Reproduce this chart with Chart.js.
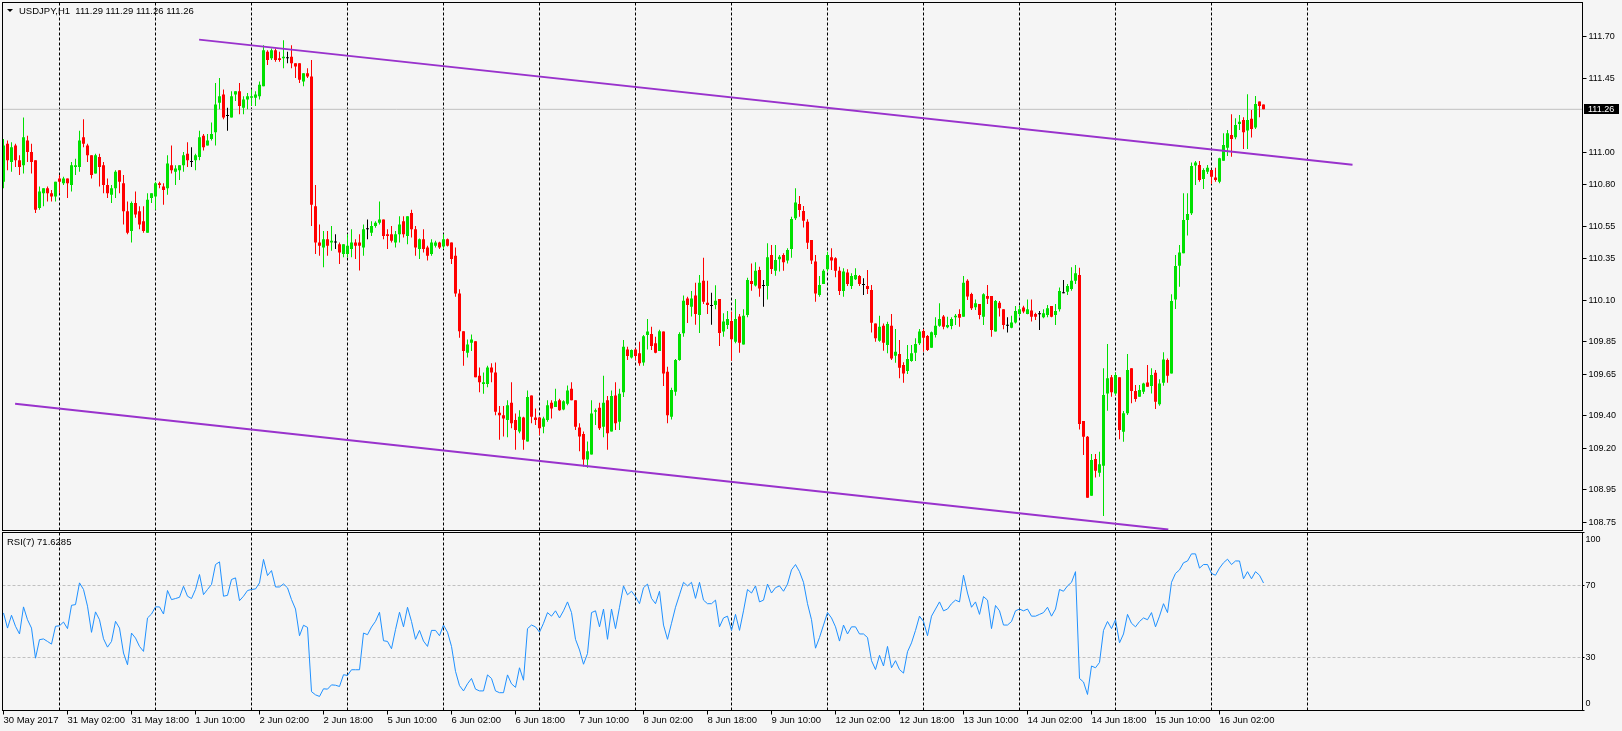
<!DOCTYPE html>
<html>
<head>
<meta charset="utf-8">
<title>USDJPY,H1</title>
<script src="https://cdn.jsdelivr.net/npm/chart.js@4/dist/chart.umd.min.js"></script>
<style>
  html, body { margin:0; padding:0; width:1622px; height:731px; overflow:hidden; background:#f5f5f5; }
  canvas { position:absolute; left:0; display:block; }
  #mainCanvas { top:0; }
  #rsiCanvas { top:531px; }
  .txt { position:absolute; font-family:'Liberation Sans', Arial, sans-serif; font-size:9.5px; line-height:11px; color:#000; white-space:pre; }
  #tri { position:absolute; left:7px; top:9px; width:0; height:0; border-left:3px solid transparent; border-right:3px solid transparent; border-top:3px solid #000; }
</style>
</head>
<body>
<canvas id="mainCanvas" width="1622" height="531"></canvas>
<canvas id="rsiCanvas" width="1622" height="200"></canvas>
<div id="tri"></div>
<div class="txt" id="title" style="left:19px;top:5px;"></div>
<div class="txt" id="rsiTitle" style="left:7px;top:536px;"></div>
<script>
// ---------------- data ----------------
const symbolName = 'USDJPY,H1';
const lastOHLC = [111.29, 111.29, 111.26, 111.26];
const bidPrice = 111.26;
const rsiPeriod = 7;
const rsiLast = 71.6285;

const timeLabels = ['30 May 2017','31 May 02:00','31 May 18:00','1 Jun 10:00','2 Jun 02:00','2 Jun 18:00',
  '5 Jun 10:00','6 Jun 02:00','6 Jun 18:00','7 Jun 10:00','8 Jun 02:00','8 Jun 18:00','9 Jun 10:00',
  '12 Jun 02:00','12 Jun 18:00','13 Jun 10:00','14 Jun 02:00','14 Jun 18:00','15 Jun 10:00','16 Jun 02:00'];
const barsPerLabel = 16;
const dayStartBars = [14,38,62,86,110,134,158,182,206,230,254,278,302,326];
const priceTicks = [111.70,111.45,111.00,110.80,110.55,110.35,110.10,109.85,109.65,109.40,109.20,108.95,108.75];
const rsiTicks = [100,70,30,0];
const rsiLevels = [70,30];

const opens = [110.82,111.05,110.94,111.04,110.95,110.92,111.07,111.00,110.95,110.66,
110.75,110.78,110.75,110.73,110.84,110.81,110.84,110.80,110.91,110.91,
111.09,111.04,110.98,110.87,110.97,110.92,110.80,110.74,110.78,110.89,
110.81,110.64,110.52,110.69,110.64,110.58,110.51,110.72,110.73,110.81,
110.79,110.78,110.92,110.88,110.89,110.92,110.99,110.94,110.95,110.97,
111.10,111.04,111.08,111.12,111.30,111.35,111.22,111.21,111.35,111.37,
111.27,111.32,111.33,111.33,111.34,111.40,111.61,111.57,111.62,111.57,
111.57,111.57,111.58,111.54,111.54,111.43,111.48,111.46,110.67,110.45,
110.42,110.47,110.45,110.45,110.44,110.38,110.38,110.41,110.45,110.45,
110.42,110.53,110.51,110.55,110.57,110.59,110.50,110.50,110.45,110.50,
110.58,110.49,110.63,110.53,110.41,110.47,110.42,110.38,110.43,110.45,
110.425,110.47,110.45,110.37,110.14,109.91,109.78,109.84,109.85,109.64,
109.59,109.59,109.69,109.66,109.415,109.40,109.37,109.475,109.37,109.30,
109.385,109.24,109.52,109.385,109.385,109.33,109.37,109.475,109.45,109.49,
109.435,109.47,109.56,109.49,109.325,109.285,109.13,109.16,109.42,109.445,
109.33,109.49,109.30,109.52,109.36,109.54,109.80,109.75,109.80,109.776,
109.72,109.887,109.893,109.837,109.79,109.908,109.664,109.39,109.543,109.735,
109.898,110.11,110.06,110.127,110.009,110.218,110.084,110.064,110.07,110.106,
109.908,109.948,109.973,109.847,110.00,109.83,110.009,110.216,110.188,110.283,
110.186,110.186,110.374,110.279,110.348,110.374,110.34,110.41,110.597,110.684,
110.642,110.577,110.465,110.334,110.131,110.198,110.287,110.36,110.354,110.279,
110.155,110.267,110.186,110.226,110.246,110.192,110.186,110.161,109.958,109.853,
109.944,109.826,109.944,109.762,109.772,109.705,109.668,109.729,109.78,109.837,
109.912,109.881,109.81,109.887,109.944,110.00,109.934,109.942,109.995,110.015,
109.999,110.218,110.137,110.056,110.076,109.999,110.125,110.125,109.908,110.084,
110.044,109.944,109.932,109.964,110.015,110.054,110.015,110.036,110.015,110.013,
109.995,110.009,110.064,110.009,110.044,110.141,110.151,110.167,110.218,110.252,
109.364,109.269,108.91,109.133,109.05,109.092,109.532,109.63,109.532,109.63,
109.299,109.411,109.685,109.547,109.512,109.543,109.599,109.577,109.658,109.467,
109.597,109.735,109.654,110.104,110.309,110.384,110.587,110.628,110.918,110.922,
110.836,110.881,110.891,110.845,110.82,110.948,111.027,111.104,111.09,111.171,
111.195,111.131,111.202,111.149,111.307,111.29];

const highs = [111.08,111.07,111.06,111.05,110.98,111.21,111.10,111.05,110.95,110.79,
110.78,110.79,110.77,110.82,110.86,110.85,110.84,110.94,110.96,111.13,
111.20,111.05,110.98,110.99,110.99,110.94,110.84,110.80,110.89,110.89,
110.86,110.70,110.70,110.76,110.67,110.67,110.75,110.75,110.82,110.82,
110.81,110.98,111.04,110.92,110.92,111.00,111.06,111.03,110.99,111.13,
111.11,111.11,111.18,111.42,111.45,111.38,111.27,111.37,111.37,111.42,
111.34,111.36,111.38,111.37,111.43,111.65,111.62,111.63,111.63,111.61,
111.68,111.61,111.65,111.54,111.54,111.48,111.51,111.56,110.80,110.56,
110.52,110.52,110.55,110.50,110.45,110.44,110.50,110.53,110.47,110.50,
110.56,110.59,110.58,110.58,110.70,110.59,110.53,110.55,110.52,110.61,
110.61,110.61,110.65,110.55,110.475,110.53,110.43,110.47,110.46,110.455,
110.50,110.475,110.45,110.42,110.165,109.91,109.86,109.89,109.85,109.69,
109.66,109.70,109.715,109.72,109.455,109.455,109.49,109.60,109.41,109.43,
109.39,109.55,109.52,109.44,109.39,109.39,109.49,109.49,109.56,109.50,
109.49,109.58,109.60,109.49,109.35,109.30,109.24,109.49,109.44,109.475,
109.64,109.516,109.55,109.60,109.56,109.857,109.816,109.80,109.806,109.847,
109.887,109.985,109.938,109.877,109.92,109.908,109.695,109.567,109.741,109.904,
110.127,110.12,110.155,110.206,110.252,110.358,110.218,110.145,110.19,110.106,
110.02,110.033,110.03,110.106,110.015,110.044,110.236,110.323,110.33,110.303,
110.222,110.445,110.435,110.435,110.374,110.384,110.415,110.607,110.78,110.733,
110.672,110.591,110.465,110.374,110.246,110.287,110.394,110.415,110.36,110.303,
110.293,110.287,110.263,110.293,110.252,110.232,110.283,110.192,109.958,110.005,
109.958,109.968,110.015,109.924,109.857,109.721,109.826,109.826,109.867,109.924,
109.924,109.887,109.908,109.995,110.08,110.009,109.999,109.995,110.015,110.044,
110.246,110.226,110.145,110.104,110.076,110.141,110.192,110.125,110.10,110.094,
110.044,109.995,110.005,110.064,110.066,110.066,110.104,110.104,110.023,110.033,
110.044,110.07,110.064,110.076,110.177,110.222,110.198,110.299,110.313,110.297,
109.364,109.273,109.164,109.164,109.178,109.685,109.833,109.644,109.66,109.63,
109.425,109.772,109.685,109.583,109.583,109.597,109.705,109.685,109.674,109.618,
109.782,109.745,110.135,110.374,110.435,110.749,110.749,110.936,110.946,110.946,
110.901,110.922,110.891,110.905,110.966,111.114,111.135,111.23,111.206,111.226,
111.212,111.352,111.256,111.341,111.307,111.29];

const lows = [110.78,110.89,110.88,110.91,110.86,110.87,110.94,110.87,110.63,110.65,
110.67,110.70,110.70,110.70,110.75,110.80,110.72,110.76,110.86,110.88,
111.03,110.94,110.84,110.87,110.79,110.75,110.72,110.69,110.72,110.75,
110.56,110.50,110.45,110.60,110.53,110.51,110.51,110.69,110.65,110.78,
110.68,110.74,110.87,110.80,110.83,110.88,110.91,110.91,110.89,110.95,
111.01,111.04,111.07,111.04,111.26,111.20,111.13,111.21,111.31,111.23,
111.23,111.26,111.28,111.28,111.32,111.40,111.53,111.56,111.55,111.55,
111.51,111.54,111.51,111.45,111.42,111.40,111.45,110.55,110.38,110.37,
110.30,110.37,110.40,110.41,110.32,110.36,110.36,110.36,110.35,110.28,
110.37,110.47,110.49,110.54,110.56,110.47,110.41,110.45,110.42,110.45,
110.48,110.44,110.48,110.37,110.35,110.39,110.34,110.37,110.42,110.41,
110.41,110.425,110.32,110.12,109.87,109.70,109.75,109.79,109.63,109.54,
109.53,109.57,109.60,109.40,109.25,109.27,109.265,109.32,109.19,109.29,
109.19,109.24,109.35,109.34,109.28,109.29,109.36,109.38,109.45,109.427,
109.43,109.46,109.49,109.31,109.18,109.087,109.08,109.16,109.34,109.31,
109.265,109.19,109.30,109.31,109.31,109.51,109.735,109.745,109.735,109.70,
109.70,109.80,109.796,109.776,109.79,109.577,109.35,109.374,109.518,109.731,
109.877,109.96,110.00,109.95,109.90,110.076,110.015,109.95,110.044,109.82,
109.877,109.924,109.731,109.837,109.78,109.83,109.995,110.157,110.182,110.12,
110.06,110.104,110.258,110.248,110.273,110.279,110.323,110.358,110.587,110.607,
110.542,110.41,110.32,110.09,110.12,110.198,110.273,110.283,110.238,110.131,
110.12,110.186,110.167,110.222,110.186,110.131,110.137,109.902,109.847,109.847,
109.792,109.776,109.735,109.719,109.624,109.597,109.65,109.725,109.729,109.826,
109.786,109.79,109.81,109.873,109.938,109.922,109.928,109.922,109.948,109.938,
109.999,110.10,110.04,110.04,109.983,109.948,110.076,109.877,109.908,110.00,
109.922,109.902,109.928,109.958,110.00,110.02,110.013,109.969,109.979,109.918,
109.989,109.995,109.995,109.948,110.03,110.141,110.131,110.157,110.198,109.313,
109.157,108.898,108.91,109.02,109.026,108.786,109.427,109.512,109.522,109.253,
109.238,109.401,109.472,109.482,109.512,109.528,109.573,109.532,109.437,109.457,
109.579,109.597,109.654,110.046,110.181,110.384,110.492,110.618,110.80,110.82,
110.776,110.867,110.806,110.82,110.81,110.948,110.976,110.972,111.078,111.135,
111.019,111.019,111.088,111.141,111.212,111.26];

const closes = [111.04,110.95,111.03,110.95,110.91,111.09,111.00,110.94,110.65,110.76,
110.78,110.75,110.73,110.82,110.82,110.84,110.81,110.92,110.92,111.07,
111.05,110.98,110.86,110.98,110.91,110.80,110.75,110.78,110.88,110.82,
110.64,110.51,110.69,110.62,110.56,110.52,110.71,110.75,110.81,110.80,
110.77,110.93,110.89,110.90,110.92,110.98,110.95,110.94,110.98,111.09,
111.03,111.07,111.11,111.29,111.34,111.21,111.22,111.34,111.37,111.28,
111.32,111.34,111.34,111.35,111.41,111.62,111.56,111.62,111.56,111.56,
111.58,111.57,111.54,111.52,111.44,111.48,111.46,110.68,110.45,110.43,
110.47,110.43,110.46,110.45,110.39,110.44,110.43,110.45,110.43,110.43,
110.53,110.53,110.55,110.57,110.59,110.49,110.49,110.46,110.50,110.56,
110.50,110.61,110.53,110.42,110.47,110.41,110.37,110.45,110.45,110.42,
110.47,110.43,110.35,110.14,109.91,109.79,109.83,109.86,109.63,109.60,
109.60,109.69,109.66,109.42,109.40,109.38,109.46,109.35,109.31,109.39,
109.25,109.51,109.39,109.37,109.32,109.38,109.46,109.44,109.485,109.43,
109.485,109.55,109.49,109.33,109.27,109.13,109.18,109.41,109.43,109.32,
109.475,109.29,109.516,109.35,109.53,109.816,109.76,109.796,109.76,109.715,
109.88,109.908,109.82,109.78,109.91,109.654,109.40,109.553,109.735,109.893,
110.096,110.07,110.11,110.015,110.206,110.09,110.07,110.064,110.096,109.90,
109.97,109.985,109.861,109.985,109.84,110.005,110.222,110.198,110.279,110.171,
110.186,110.36,110.289,110.344,110.364,110.33,110.405,110.593,110.694,110.648,
110.583,110.449,110.34,110.14,110.192,110.279,110.374,110.34,110.279,110.155,
110.273,110.198,110.246,110.252,110.198,110.192,110.167,109.962,109.867,109.938,
109.841,109.954,109.745,109.786,109.689,109.654,109.741,109.776,109.833,109.908,
109.871,109.796,109.904,109.944,109.985,109.938,109.948,109.985,110.005,109.993,
110.206,110.121,110.05,110.08,110.009,110.135,110.108,109.918,110.094,110.05,
109.948,109.944,109.964,110.033,110.044,110.03,110.044,109.999,109.999,110.013,
110.019,110.05,109.999,110.033,110.155,110.141,110.186,110.218,110.263,109.346,
109.269,108.898,109.127,109.062,109.102,109.522,109.624,109.539,109.644,109.309,
109.411,109.674,109.547,109.498,109.553,109.593,109.573,109.644,109.482,109.593,
109.739,109.64,110.094,110.307,110.39,110.587,110.624,110.916,110.936,110.83,
110.891,110.905,110.85,110.83,110.962,111.043,111.114,111.08,111.165,111.185,
111.12,111.195,111.141,111.293,111.28,111.26];

// RSI(7), one value per bar, read from the indicator window
const rsiValues = [54.8,46.3,53.5,47.3,43.0,58.2,51.0,46.3,29.4,39.8,
40.2,38.8,37.3,47.3,47.6,49.7,46.0,59.1,59.5,71.7,
68.0,58.6,43.9,55.4,51.0,40.3,35.6,38.8,50.1,46.3,
32.3,25.7,43.5,40.7,36.0,33.2,52.0,54.2,58.2,58.2,
54.2,67.4,62.3,62.9,63.6,69.8,64.2,62.9,68.0,76.4,
65.1,68.0,70.8,82.0,83.5,64.2,64.7,73.6,74.5,61.7,
64.2,67.4,68.0,68.3,71.7,84.9,75.8,78.6,69.4,69.4,
71.1,68.9,62.3,57.0,42.0,47.9,46.7,10.6,8.8,7.9,
12.2,12.0,14.4,14.2,13.5,20.1,19.7,22.9,22.9,22.9,
43.5,42.6,46.9,50.1,55.2,39.2,38.8,34.7,45.4,55.2,
47,58,50,40,45,39,36,45,45,42,
48,44,36,22,14,11,15,18,12,11,
11,20,18,11,10,10,20,15,13,24,
17,46,48,47,44,49,55,53,56,52,
56,61,55,40,34,26,32,55,56,47,
57,40,57,46,58,70,65,67,64,60,
69,71,63,60,67,48,40,49,58,65,
72,70,72,63,72,62,60,60,62,47,
52,53,45,54,45,56,68,66,70,61,
62,71,66,69,70,67,71,79,82,78,
72,60,51,35,41,48,55,52,47,39,
48,43,47,47,43,43,41,28,23,31,
25,36,24,28,23,21,33,38,45,53,
50,42,53,57,61,56,57,60,62,61,
76,66,58,61,54,64,62,46,59,56,
48,48,50,56,57,56,57,53,53,54,
55,58,53,57,68,67,70,72,78,18,
16,9,25,24,27,45,50,46,51,38,
43,54,49,47,50,52,51,55,47,53,
60,55,72,77,79,83,84,88,88,80,
82,82,77,76,80,83,85,82,84,84,
74,78,74,78,76,71.63];

// trend lines: [bar, price] end points
const upperTrend = [[48.9, 111.684], [337.25, 110.923]];
const lowerTrend = [[2.9, 109.47], [291.2, 108.705]];

// ---------------- presentation ----------------
document.getElementById('title').textContent = symbolName + '  ' + lastOHLC.map(v => v.toFixed(2)).join(' ');
document.getElementById('rsiTitle').textContent = 'RSI(' + rsiPeriod + ') ' + rsiLast.toFixed(4);

const FONT = "'Liberation Sans', Arial, sans-serif";
Chart.defaults.font.family = FONT;
Chart.defaults.font.size = 9;
Chart.defaults.color = '#000';
Chart.defaults.animation = false;

const UP = '#00e000', DOWN = '#ff0000', FLAT = '#000000';
const TREND = '#9932cc';
const X_MIN = -0.25, X_MAX = 394.75;
const AXIS_W = 39.5;

const candleColor = ctx => {
  const i = ctx.dataIndex;
  if (closes[i] > opens[i]) return UP;
  if (closes[i] < opens[i]) return DOWN;
  return FLAT;
};

const zeroPad = s => { s.paddingLeft = 0; s.paddingRight = 0; s.paddingTop = 0; s.paddingBottom = 0; };

const framePlugin = {
  id: 'frame',
  afterDraw(chart) {
    const a = chart.chartArea, ctx = chart.ctx;
    ctx.save();
    ctx.strokeStyle = '#000';
    ctx.lineWidth = 1;
    ctx.strokeRect(a.left, a.top, a.right - a.left, a.bottom - a.top);
    ctx.restore();
  }
};

const bidBoxPlugin = {
  id: 'bidBox',
  afterDraw(chart) {
    const y = Math.round(chart.scales.y.getPixelForValue(bidPrice));
    const ctx = chart.ctx, x0 = chart.chartArea.right + 1.5;
    ctx.save();
    ctx.fillStyle = '#000';
    ctx.fillRect(x0, y - 5, 35, 10);
    ctx.fillStyle = '#fff';
    ctx.font = '9px ' + FONT;
    ctx.textBaseline = 'middle';
    ctx.textAlign = 'left';
    ctx.fillText(bidPrice.toFixed(2), x0 + 4, y + 0.5);
    ctx.restore();
  }
};

const idx = closes.map((_, i) => i);

new Chart(document.getElementById('mainCanvas'), {
  type: 'bar',
  data: {
    datasets: [
      { type: 'line', data: upperTrend.map(p => ({x: p[0], y: p[1]})), borderColor: TREND, borderWidth: 2,
        pointRadius: 0, order: 0 },
      { type: 'line', data: lowerTrend.map(p => ({x: p[0], y: p[1]})), borderColor: TREND, borderWidth: 2,
        pointRadius: 0, order: 0 },
      { type: 'bar', data: idx.map(i => ({x: i, y: [opens[i], closes[i]]})), backgroundColor: candleColor,
        borderWidth: 0, barThickness: 3, grouped: false, inflateAmount: 0, minBarLength: 1, order: 1 },
      { type: 'bar', data: idx.map(i => ({x: i, y: [lows[i], highs[i]]})), backgroundColor: candleColor,
        borderWidth: 0, barThickness: 1, grouped: false, inflateAmount: 0, order: 2 },
      { type: 'line', data: [{x: X_MIN - 5, y: bidPrice}, {x: X_MAX + 5, y: bidPrice}], borderColor: '#c0c0c0',
        borderWidth: 1, pointRadius: 0, order: 3 }
    ]
  },
  options: {
    responsive: false,
    devicePixelRatio: 1,
    layout: { padding: { left: 2.5, top: 2.5, right: 0, bottom: 0.5 } },
    plugins: { legend: { display: false }, tooltip: { enabled: false } },
    scales: {
      x: {
        type: 'linear', min: X_MIN, max: X_MAX, position: 'bottom', offset: false, bounds: 'ticks',
        afterBuildTicks: s => { s.ticks = dayStartBars.map(v => ({value: v})); },
        afterFit: s => { s.height = 0; zeroPad(s); },
        ticks: { display: false },
        grid: { offset: false, color: '#000', lineWidth: 1, drawTicks: false, drawOnChartArea: true },
        border: { display: false, dash: [3, 2] }
      },
      y: {
        type: 'linear', position: 'right', min: 108.6984, max: 111.9098,
        afterBuildTicks: s => { s.ticks = priceTicks.map(v => ({value: v})); },
        afterFit: s => { s.width = AXIS_W; zeroPad(s); },
        ticks: { callback: v => Number(v).toFixed(2), padding: 2, color: '#000', font: { size: 9 } },
        grid: { drawOnChartArea: false, drawTicks: true, tickLength: 4, tickColor: '#000', tickWidth: 1 },
        border: { display: false }
      }
    }
  },
  plugins: [framePlugin, bidBoxPlugin]
});

const rsiLabelNudge = {
  id: 'rsiLabelNudge',
  beforeDraw(chart) {
    const s = chart.scales.y;
    if (!s.getLabelItems) return;
    const items = s.getLabelItems();
    items.forEach((it, i) => {
      if (it._nudged || !s.ticks[i]) return;
      const v = s.ticks[i].value;
      if (v === 100) it.options.translation[1] += 7;
      if (v === 0) it.options.translation[1] -= 7;
      it._nudged = true;
    });
  }
};

new Chart(document.getElementById('rsiCanvas'), {
  type: 'line',
  data: {
    datasets: [
      { data: rsiValues.map((v, i) => ({x: i, y: v})), borderColor: '#1e90ff', borderWidth: 1,
        pointRadius: 0, tension: 0 }
    ]
  },
  options: {
    responsive: false,
    devicePixelRatio: 1,
    layout: { padding: { left: 2.5, top: 1.5, right: 0, bottom: 0 } },
    plugins: { legend: { display: false }, tooltip: { enabled: false } },
    scales: {
      x: {
        type: 'linear', min: X_MIN, max: X_MAX, position: 'bottom', offset: false,
        afterBuildTicks: s => { s.ticks = timeLabels.map((_, k) => ({value: k * barsPerLabel})); },
        afterFit: s => { s.height = 20.5; zeroPad(s); },
        ticks: { callback: v => timeLabels[Math.round(v / barsPerLabel)], align: 'start', padding: 0,
                 autoSkip: false, maxRotation: 0, minRotation: 0, color: '#000', font: { size: 9.5 } },
        grid: { offset: false, drawOnChartArea: false, drawTicks: true, tickLength: 4, tickColor: '#000', tickWidth: 1 },
        border: { display: false }
      },
      xg: {
        type: 'linear', min: X_MIN, max: X_MAX, position: 'bottom', offset: false,
        afterBuildTicks: s => { s.ticks = dayStartBars.map(v => ({value: v})); },
        afterFit: s => { s.height = 0; zeroPad(s); },
        ticks: { display: false },
        grid: { offset: false, color: '#000', lineWidth: 1, drawTicks: false, drawOnChartArea: true },
        border: { display: false, dash: [3, 2] }
      },
      y: {
        type: 'linear', position: 'right', min: 0, max: 100,
        afterBuildTicks: s => { s.ticks = rsiTicks.map(v => ({value: v})); },
        afterFit: s => { s.width = AXIS_W; zeroPad(s); },
        ticks: { callback: v => String(v), padding: 1, color: '#000', font: { size: 9 } },
        grid: {
          drawOnChartArea: true, drawTicks: true, tickLength: 2, tickColor: '#000', tickWidth: 1,
          color: ctx => (ctx.tick && rsiLevels.includes(ctx.tick.value)) ? '#c0c0c0' : 'rgba(0,0,0,0)'
        },
        border: { display: false, dash: [3, 2] }
      }
    }
  },
  plugins: [framePlugin, rsiLabelNudge]
});
</script>
</body>
</html>
